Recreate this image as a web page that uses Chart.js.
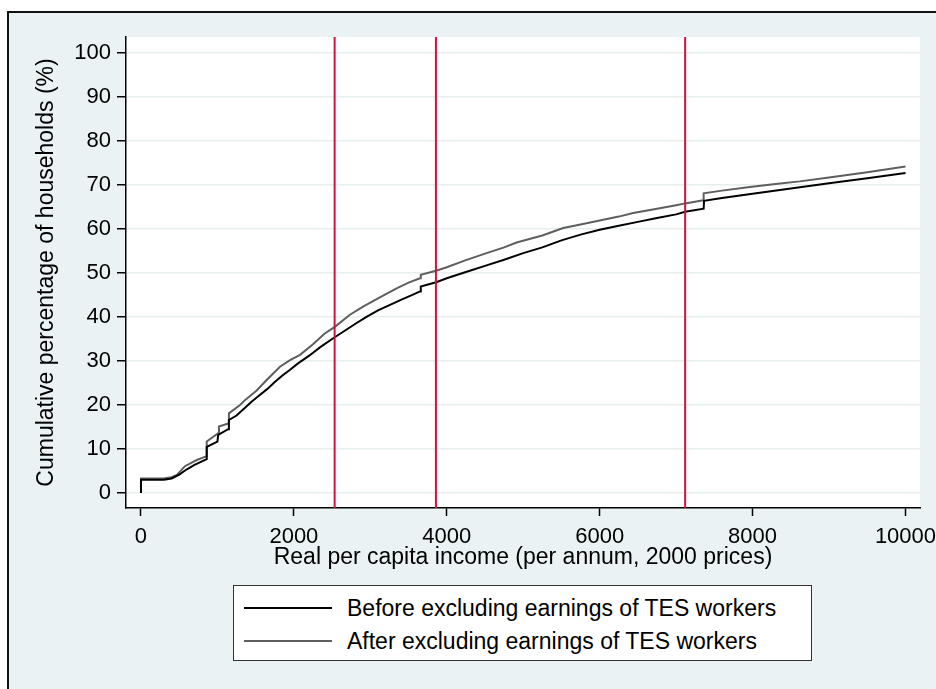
<!DOCTYPE html>
<html><head><meta charset="utf-8">
<script src="https://cdn.jsdelivr.net/npm/chart.js@4.4.0/dist/chart.umd.min.js"></script>
<style>
html,body{margin:0;padding:0;background:#fff;width:936px;height:689px;overflow:hidden;font-family:"Liberation Sans",Arial,sans-serif;}
#frame{position:absolute;left:7px;top:11px;width:1000px;height:1000px;border:2px solid #111;background:#eaf2f3;}
#c{position:absolute;left:0;top:0;}
#legend{position:absolute;left:233px;top:585px;width:577px;height:74px;border:1.5px solid #333;background:#fff;}
.item{position:absolute;left:0;height:30px;width:577px;}
.sw{position:absolute;left:10px;top:14px;width:88px;height:0;border-top:2px solid #000;}
.lbl{position:absolute;left:113px;top:0;font-size:23px;line-height:30px;color:#000;white-space:nowrap;}
</style>
</head><body>
<div id="frame"></div>
<canvas id="c" width="936" height="689"></canvas>
<div id="legend">
  <div class="item" style="top:7px"><div class="sw" style="border-top-color:#000"></div><div class="lbl" id="l0"></div></div>
  <div class="item" style="top:40px"><div class="sw" style="border-top-color:#5e5e5e"></div><div class="lbl" id="l1"></div></div>
</div>
<script>
// ---- data ----
const seriesNames = ["Before excluding earnings of TES workers", "After excluding earnings of TES workers"];
const beforeIncome = [0,0,300,400,500,600,700,860,860,1000,1010,1140,1150,1250,1350,1450,1550,1650,1750,1850,1950,2050,2200,2350,2500,2650,2800,2950,3100,3250,3400,3550,3650,3660,3860,4000,4250,4500,4750,5000,5250,5500,5750,6000,6250,6500,6750,7000,7118,7360,7365,7600,8000,8500,9000,9500,10000];
const beforePct    = [0,3.0,3.0,3.3,4.2,5.4,6.4,7.7,10.5,11.7,13.2,14.5,16.6,17.6,19.2,20.8,22.2,23.6,25.2,26.7,28.0,29.4,31.2,33.2,35.0,36.7,38.4,40.0,41.5,42.7,43.9,45.0,45.8,46.9,47.9,48.8,50.2,51.6,53.0,54.5,55.8,57.4,58.7,59.8,60.7,61.6,62.5,63.3,63.9,64.6,66.4,67.0,68.0,69.2,70.4,71.5,72.7];
const afterIncome  = [0,0,300,400,470,575,730,860,860,1010,1020,1140,1150,1295,1360,1513,1650,1818,1950,2080,2250,2400,2540,2733,2900,3100,3344,3500,3650,3660,3860,4000,4250,4520,4750,4913,5250,5523,5750,6000,6250,6438,6750,7000,7118,7354,7360,7600,7964,8300,8618,9000,9500,10000];
const afterPct     = [0,3.3,3.3,3.6,4.1,6.1,7.5,8.4,11.7,13.6,15.1,15.8,18.1,20.0,21.1,23.3,25.8,28.7,30.2,31.4,33.8,36.2,37.8,40.5,42.3,44.2,46.5,47.8,48.8,49.6,50.5,51.3,52.9,54.5,55.8,56.9,58.5,60.2,61.0,61.9,62.8,63.6,64.6,65.4,65.8,66.5,68.1,68.7,69.5,70.2,70.8,71.7,72.9,74.2];
const povertyLines = [2533, 3858, 7118];
const xTicks = [0,2000,4000,6000,8000,10000];
const yTicks = [0,10,20,30,40,50,60,70,80,90,100];
const xMin = -196, xMax = 10190, yMin = -3.4, yMax = 103.6;
const xTitle = "Real per capita income (per annum, 2000 prices)";
const yTitle = "Cumulative percentage of households (%)";

document.getElementById('l0').textContent = seriesNames[0];
document.getElementById('l1').textContent = seriesNames[1];

const pts = (xs, ys) => xs.map((x, i) => ({x: x, y: ys[i]}));

const redSets = povertyLines.map(p => ({
  data: [{x: p, y: yMin}, {x: p, y: yMax}],
  borderColor: '#cf1340', borderWidth: 2, showLine: true, pointRadius: 0
}));

const plotBg = {
  id: 'plotBg',
  beforeDraw(chart) {
    const {ctx, chartArea: a} = chart;
    ctx.save(); ctx.fillStyle = '#fff';
    ctx.fillRect(a.left, a.top, a.right - a.left, a.bottom - a.top);
    ctx.restore();
  }
};

Chart.defaults.font.family = '"Liberation Sans", Arial, sans-serif';
Chart.defaults.color = '#000';

new Chart(document.getElementById('c'), {
  type: 'scatter',
  data: {
    datasets: [
      ...redSets,
      {label: seriesNames[0], data: pts(beforeIncome, beforePct), borderColor: '#000', borderWidth: 2, showLine: true, pointRadius: 0},
      {label: seriesNames[1], data: pts(afterIncome, afterPct), borderColor: '#5e5e5e', borderWidth: 2, showLine: true, pointRadius: 0}
    ]
  },
  options: {
    responsive: false, animation: false,
    layout: {padding: {left: 0, top: 37, right: 16, bottom: 111}},
    plugins: {legend: {display: false}, tooltip: {enabled: false}},
    scales: {
      x: {
        type: 'linear', min: xMin, max: xMax,
        afterBuildTicks: s => { s.ticks = xTicks.map(v => ({value: v})); },
        afterFit: s => { s.height = 70; s.paddingLeft = 0; s.paddingRight = 0; },
        ticks: {font: {size: 22}, color: '#000', padding: 8, autoSkip: false, maxRotation: 0, callback: v => String(v)},
        grid: {drawOnChartArea: false, drawTicks: true, tickLength: 8, tickColor: '#000', tickWidth: 1.5},
        border: {display: true, color: '#000', width: 1.5},
        title: {display: true, text: xTitle, font: {size: 23}, color: '#000', padding: {top: 0, bottom: 7}}
      },
      y: {
        type: 'linear', min: yMin, max: yMax,
        afterBuildTicks: s => { s.ticks = yTicks.map(v => ({value: v})); },
        afterFit: s => { s.width = 126; s.paddingTop = 0; s.paddingBottom = 0; },
        ticks: {font: {size: 22}, color: '#000', padding: 6, callback: v => String(v)},
        grid: {color: '#e6eef0', lineWidth: 1.5, drawTicks: true, tickLength: 9, tickColor: '#000', tickWidth: 1.5},
        border: {display: true, color: '#000', width: 1.5},
        title: {display: true, text: yTitle, font: {size: 23}, color: '#000', padding: {top: 33, bottom: 0}}
      }
    }
  },
  plugins: [plotBg]
});
</script>
</body></html>
